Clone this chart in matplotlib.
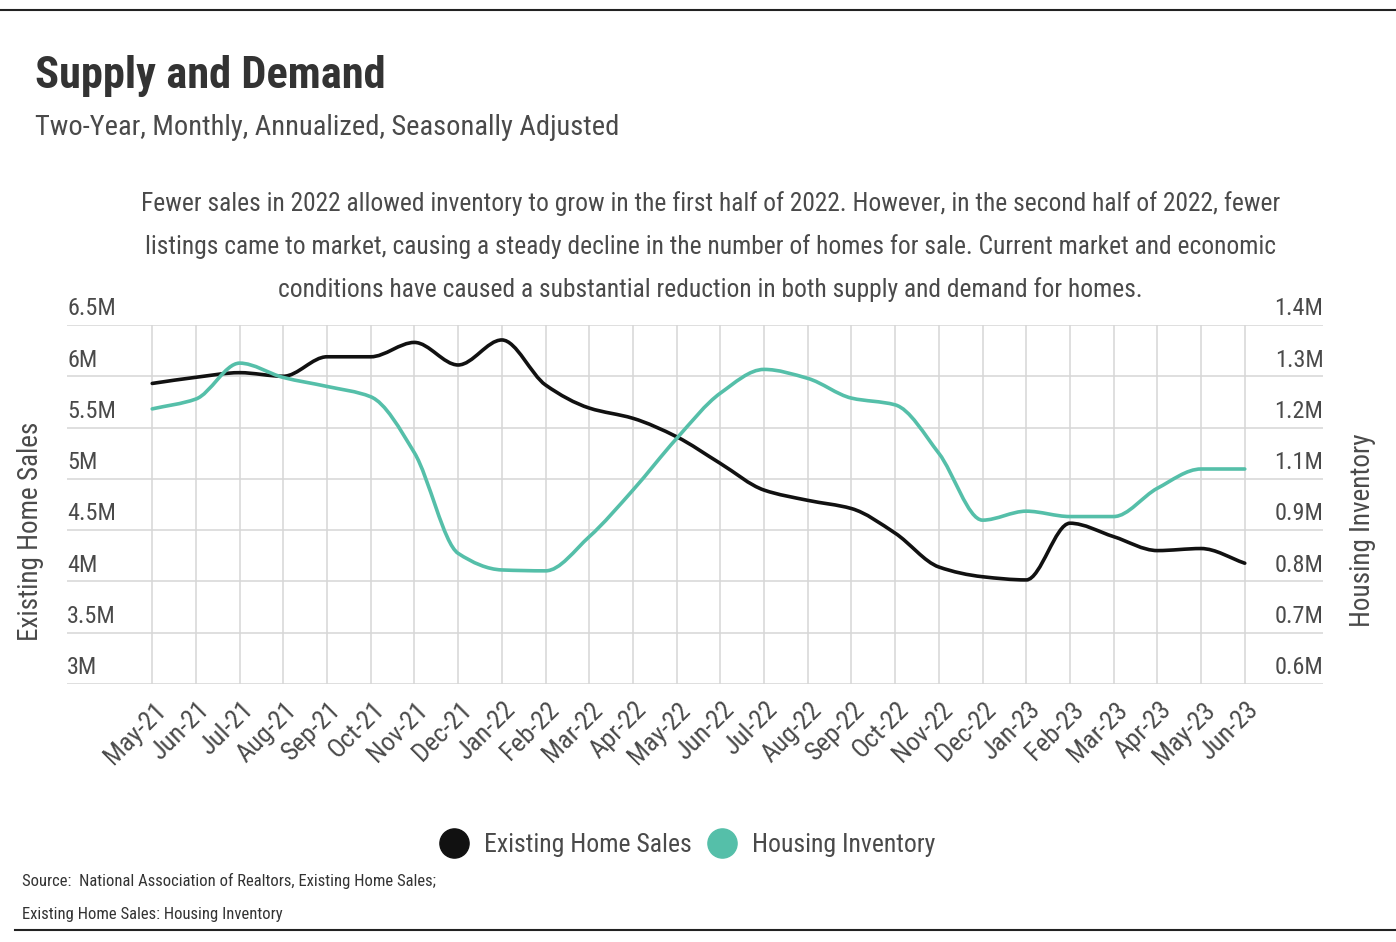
import numpy as np
import matplotlib
matplotlib.use('Agg')
import matplotlib.pyplot as plt
from matplotlib.path import Path
from matplotlib.patches import PathPatch
from matplotlib.lines import Line2D
from matplotlib.transforms import ScaledTranslation
from matplotlib import font_manager

months = ['May-21', 'Jun-21', 'Jul-21', 'Aug-21', 'Sep-21', 'Oct-21', 'Nov-21', 'Dec-21',
          'Jan-22', 'Feb-22', 'Mar-22', 'Apr-22', 'May-22', 'Jun-22', 'Jul-22', 'Aug-22',
          'Sep-22', 'Oct-22', 'Nov-22', 'Dec-22', 'Jan-23', 'Feb-23', 'Mar-23', 'Apr-23',
          'May-23', 'Jun-23']
# millions, annualized
home_sales = [5.93, 5.99, 6.035, 6.0, 6.19, 6.19, 6.33, 6.11, 6.354, 5.915, 5.69, 5.59, 5.41,
              5.15, 4.89, 4.79, 4.71, 4.47, 4.14, 4.045, 4.014, 4.567, 4.436, 4.30, 4.32, 4.177]
inventory = [1.213, 1.235, 1.315, 1.283, 1.263, 1.24, 1.115, 0.891, 0.854, 0.852, 0.928, 1.032,
             1.147, 1.248, 1.301, 1.281, 1.237, 1.222, 1.114, 0.965, 0.985, 0.973, 0.973, 1.036,
             1.079, 1.079]
left_ticks = [3, 3.5, 4, 4.5, 5, 5.5, 6, 6.5]
right_ticks = np.linspace(0.6, 1.4, 8)

names = {f.name for f in font_manager.fontManager.ttflist}
font = next((n for n in ['Roboto Condensed', 'Liberation Sans Narrow', 'Open Sans Condensed',
                         'Roboto', 'Lato'] if n in names), 'DejaVu Sans')
plt.rcParams['font.family'] = [font, 'DejaVu Sans']

txt = '#4a4a4a'
black = '#111111'
teal = '#55bfa9'
grid = '#d6d6d6'


def smooth_path(xs, ys):
    # monotone cubic through the points, drawn as bezier segments
    xs = np.asarray(xs, float)
    ys = np.asarray(ys, float)
    h = np.diff(xs)
    d = np.diff(ys) / h
    m = np.zeros_like(ys)
    m[0], m[-1] = d[0], d[-1]
    for i in range(1, len(ys) - 1):
        if d[i - 1] * d[i] > 0:
            m[i] = 2 / (1 / d[i - 1] + 1 / d[i])
    verts = [(xs[0], ys[0])]
    codes = [Path.MOVETO]
    for i in range(len(xs) - 1):
        verts += [(xs[i] + h[i] / 3, ys[i] + m[i] * h[i] / 3),
                  (xs[i + 1] - h[i] / 3, ys[i + 1] - m[i + 1] * h[i] / 3),
                  (xs[i + 1], ys[i + 1])]
        codes += [Path.CURVE4] * 3
    return Path(verts, codes)


fig = plt.figure(figsize=(13.96, 9.42), dpi=100)
ax = fig.add_axes([0.048, 0.274, 0.9, 0.381])
ax2 = ax.twinx()

x = np.arange(len(months))
ax.add_patch(PathPatch(smooth_path(x, home_sales), fill=False, edgecolor=black, lw=2.6,
                       capstyle='round', zorder=3))
ax2.add_patch(PathPatch(smooth_path(x, inventory), fill=False, edgecolor=teal, lw=2.6,
                        capstyle='round', zorder=3))

ax.set_xlim(-1.95, 26.8)
ax.set_ylim(3, 6.5)
ax2.set_ylim(0.6, 1.4)
ax.set_yticks(left_ticks)
ax2.set_yticks(right_ticks)
ax.set_yticklabels([])
ax2.set_yticklabels([])
ax.grid(True, color=grid, lw=1.1)
ax.set_axisbelow(True)
ax.tick_params(length=0)
ax2.tick_params(length=0)
for a in (ax, ax2):
    for s in a.spines.values():
        s.set_visible(False)

ax.set_xticks(x)
ax.set_xticklabels(months, rotation=45, ha='right', va='center', rotation_mode='anchor',
                   fontsize=19, color=txt)
ax.tick_params(axis='x', pad=16)
for lab in ax.get_xticklabels():
    lab.set_transform(lab.get_transform() + ScaledTranslation(0.1, 0, fig.dpi_scale_trans))

for v in left_ticks:
    ax.annotate('%gM' % v, xy=(0, v), xycoords=ax.get_yaxis_transform(), xytext=(0, 7),
                textcoords='offset points', ha='left', va='baseline', fontsize=17.5, color=txt)
for v in right_ticks:
    ax2.annotate('%.1fM' % v, xy=(1, v), xycoords=ax2.get_yaxis_transform(), xytext=(0, 7),
                 textcoords='offset points', ha='right', va='baseline', fontsize=17.5, color=txt)

fig.text(0.022, 0.4365, 'Existing Home Sales', rotation=90, ha='center', va='center',
         fontsize=19.5, color=txt)
fig.text(0.976, 0.4375, 'Housing Inventory', rotation=90, ha='center', va='center',
         fontsize=19.5, color=txt)

fig.text(0.025, 0.919, 'Supply and Demand', fontsize=32, fontweight='bold', color='#333333',
         va='center')
fig.text(0.025, 0.865, 'Two-Year, Monthly, Annualized, Seasonally Adjusted', fontsize=20.5,
         color=txt, va='center')

note = ['Fewer sales in 2022 allowed inventory to grow in the first half of 2022. However, in the second half of 2022, fewer',
        'listings came to market, causing a steady decline in the number of homes for sale. Current market and economic',
        'conditions have caused a substantial reduction in both supply and demand for homes.']
for i, line in enumerate(note):
    fig.text(0.509, 0.784 - i * 0.0456, line, ha='center', va='center', fontsize=18.4, color=txt)

handles = [Line2D([], [], ls='none', marker='o', markersize=21, markerfacecolor=black,
                  markeredgecolor=black),
           Line2D([], [], ls='none', marker='o', markersize=21, markerfacecolor=teal,
                  markeredgecolor=teal)]
fig.legend(handles, ['Existing Home Sales', 'Housing Inventory'], loc='center',
           bbox_to_anchor=(0.492, 0.103), ncol=2, frameon=False, fontsize=18.5,
           labelcolor=txt, handletextpad=0.55, columnspacing=0.6, handlelength=1.2)

fig.text(0.016, 0.065, 'Source:  National Association of Realtors, Existing Home Sales;',
         fontsize=12, color='#333333', va='center')
fig.text(0.016, 0.029, 'Existing Home Sales: Housing Inventory', fontsize=12,
         color='#333333', va='center')

fig.add_artist(Line2D([0, 1], [0.989, 0.989], color='#222222', lw=1.5))
fig.add_artist(Line2D([0.011, 1], [0.013, 0.013], color='#222222', lw=1.5))

fig.savefig('out.png', dpi=100)
